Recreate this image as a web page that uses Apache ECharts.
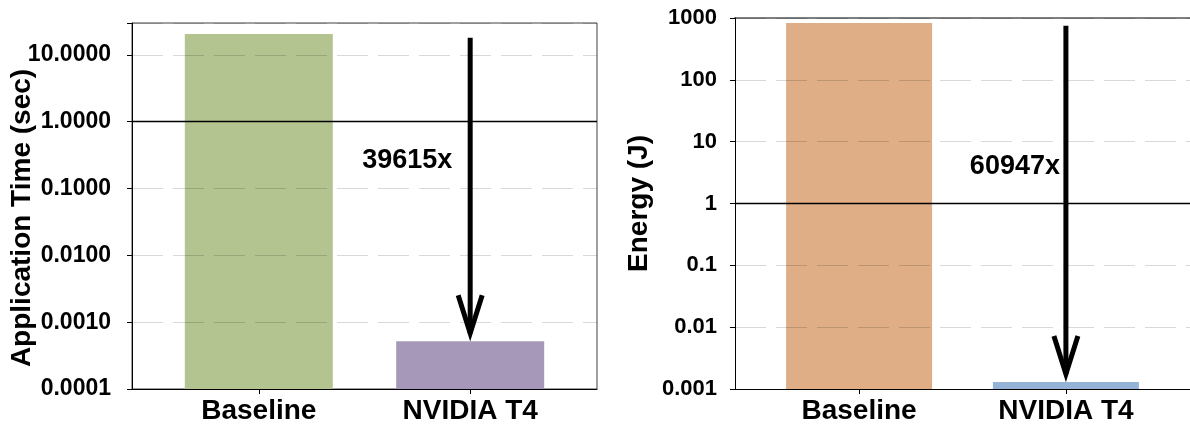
<!DOCTYPE html>
<html><head><meta charset="utf-8">
<script src="https://cdn.jsdelivr.net/npm/echarts@6/dist/echarts.min.js"></script>
<style>html,body{margin:0;padding:0;background:#fff}#c{width:1190px;height:428px}</style>
</head><body><div id="c"></div>
<script>
// ---- data ----
const categories = ['Baseline', 'NVIDIA T4'];
const timeValues = [20.6, 0.00052];          // seconds
const energyValues = [830, 0.0013];          // joules
const timeTickLabels = ['0.0001', '0.0010', '0.0100', '0.1000', '1.0000', '10.0000'];
const energyTickLabels = ['0.001', '0.01', '0.1', '1', '10', '100', '1000'];
const timeSpeedup = '39615x';
const energySpeedup = '60947x';
// annotation arrow (data units): [category index, arrow top, arrow tip, text level]
const timeArrow = [1, 18, 0.00052, 0.26];
const energyArrow = [1, 750, 0.0013, 4];

// ---- styles ----
const FONT = 'Liberation Sans, Arial, sans-serif';
const timeColors = ['#b3c491', '#a698b8'];
const energyColors = ['#dfae87', '#95b3d7'];

function tickFormatter(labels, minExp) {
  return function (v) {
    const e = Math.log10(v);
    const r = Math.round(e);
    if (Math.abs(e - r) > 1e-6) return '';
    return labels[r - minExp] || '';
  };
}

function xAxisCfg(gi) {
  return {
    type: 'value', gridIndex: gi, min: -0.6, max: 1.6,
    axisLine: { show: true, onZero: false, lineStyle: { color: '#000', width: 1 } },
    axisTick: { show: true, customValues: [0, 1], length: 5, lineStyle: { color: '#000' } },
    axisLabel: {
      customValues: [0, 1], margin: 8,
      formatter: v => categories[Math.round(v)] || '',
      fontFamily: FONT, fontWeight: 'bold', fontSize: 28, color: '#000'
    },
    splitLine: { show: false }
  };
}

function yAxisCfg(gi, min, max, labels, minExp, name, nameGap, margin, padding, labelSize, moveOverlap) {
  return {
    type: 'log', logBase: 10, gridIndex: gi, min: min, max: max, startValue: min, z: 3,
    name: name, nameLocation: 'middle', nameGap: nameGap, nameMoveOverlap: moveOverlap,
    nameTextStyle: { fontFamily: FONT, fontWeight: 'bold', fontSize: 28, color: '#000', padding: padding },
    axisLine: { show: true, onZero: false, lineStyle: { color: '#000', width: 1 } },
    axisTick: { show: true, length: 5, lineStyle: { color: '#000' } },
    minorTick: { show: false },
    axisLabel: {
      margin: margin, formatter: tickFormatter(labels, minExp),
      fontFamily: FONT, fontWeight: 'bold', fontSize: labelSize, color: '#000'
    },
    splitLine: { show: true, lineStyle: { color: 'rgba(0,0,0,0.15)', width: 1, type: [31, 10] } }
  };
}

function barSeries(xi, values, colors, width) {
  return {
    type: 'bar', xAxisIndex: xi, yAxisIndex: xi, barWidth: width, z: 1,
    data: values.map((v, i) => ({ value: [i, v], itemStyle: { color: colors[i] } })),
    markLine: {
      silent: true, symbol: 'none', z: 4,
      label: { show: false },
      lineStyle: { color: '#000', width: 1.3, type: 'solid' },
      data: [{ yAxis: 1 }]
    }
  };
}

function arrowSeries(xi, arrow, text, textDx) {
  return {
    type: 'custom', xAxisIndex: xi, yAxisIndex: xi, z: 6, silent: true,
    data: [arrow],
    renderItem: function (params, api) {
      const top = api.coord([api.value(0), api.value(1)]);
      const tip = api.coord([api.value(0), api.value(2)]);
      const txt = api.coord([api.value(0), api.value(3)]);
      const st = { stroke: '#000', lineWidth: 5, fill: null, lineCap: 'butt', lineJoin: 'miter' };
      const ty = tip[1] - 8;
      return {
        type: 'group', children: [
          { type: 'line', shape: { x1: top[0], y1: top[1], x2: tip[0], y2: ty }, style: st },
          { type: 'polyline', shape: { points: [[tip[0] - 12, ty - 38], [tip[0], ty], [tip[0] + 12, ty - 38]] }, style: st },
          { type: 'text', x: txt[0] + textDx, y: txt[1],
            style: { text: text, fill: '#000', font: 'bold 27px ' + FONT, align: 'center', verticalAlign: 'middle' } }
        ]
      };
    }
  };
}

const chart = echarts.init(document.getElementById('c'), null, { renderer: 'canvas' });
chart.setOption({
  animation: false,
  backgroundColor: '#fff',
  grid: [
    { left: 132, top: 23, width: 465, height: 366, show: true, borderColor: '#404040', borderWidth: 1, backgroundColor: 'transparent' },
    { left: 735, top: 18, width: 460, height: 371, show: false }
  ],
  xAxis: [
    xAxisCfg(0),
    xAxisCfg(1),
    { type: 'value', gridIndex: 1, position: 'top', min: -0.6, max: 1.6,
      axisLine: { show: true, onZero: false, lineStyle: { color: '#7f7f7f', width: 2 } },
      axisTick: { show: false }, axisLabel: { show: false }, splitLine: { show: false } }
  ],
  yAxis: [
    yAxisCfg(0, 0.0001, 30, timeTickLabels, -4, 'Application Time (sec)', 96, 21, [0, 24, 0, 0], 23, false),
    yAxisCfg(1, 0.001, 1000, energyTickLabels, -3, 'Energy (J)', 82, 18, [0, 0, 0, 0], 22, true)
  ],
  series: [
    barSeries(0, timeValues, timeColors, 148),
    barSeries(1, energyValues, energyColors, 146),
    arrowSeries(0, timeArrow, timeSpeedup, -63),
    arrowSeries(1, energyArrow, energySpeedup, -51)
  ]
});
</script>
</body></html>
